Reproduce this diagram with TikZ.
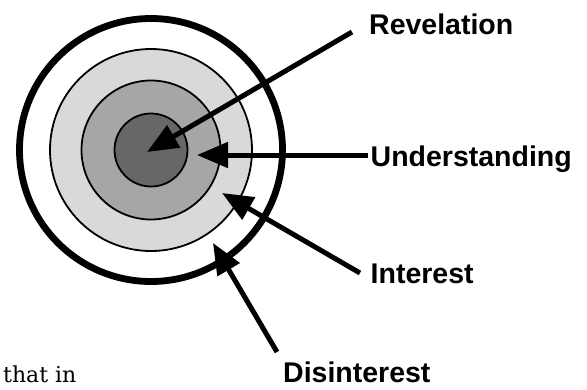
\documentclass[tikz,border=0pt]{standalone}
\usepackage{fontspec}
\setmainfont{Liberation Sans}
\newfontfamily\bodyserif{DejaVu Serif}
\usetikzlibrary{arrows.meta}
\definecolor{ringdark}{HTML}{676767}
\definecolor{ringmid}{HTML}{A6A6A6}
\definecolor{ringlight}{HTML}{D9D9D9}
\tikzset{
  ring/.style={draw=black, line width=1.8pt},
  pointer/.style={line width=5pt, -{Triangle[length=31pt,width=25pt]}},
  label/.style={font=\fontsize{28.5}{30}\selectfont\bfseries, anchor=base west, inner sep=0pt}
}
\begin{document}
\begin{tikzpicture}[x=1pt,y=-1pt]
\useasboundingbox (0,0) rectangle (587,389);
\fill[white] (0,0) rectangle (587,389);
% target
\draw[black, line width=6.8pt] (151,150) circle[radius=131.5];
\filldraw[ring, fill=ringlight] (151,150) circle[radius=101];
\filldraw[ring, fill=ringmid] (151,150) circle[radius=69.5];
\filldraw[ring, fill=ringdark] (151,150) circle[radius=36.5];
% labels
\node[label] (rev) at (369,34) {Revelation};
\node[label] (und) at (370.5,166) {Understanding};
\node[label] (int) at (370.5,283) {Interest};
\node[label] (dis) at (283,382) {Disinterest};
% arrow coordinates
\coordinate (revS) at (352,32);
\coordinate (revT) at (147,152);
\coordinate (undS) at (368,155);
\coordinate (undT) at (197,155);
\coordinate (intS) at (360,273);
\coordinate (intT) at (222,193);
\coordinate (disS) at (277,352);
\coordinate (disT) at (213,243);
\draw[pointer] (revS) -- (revT);
\draw[pointer] (undS) -- (undT);
\draw[pointer] (intS) -- (intT);
\draw[pointer] (disS) -- (disT);
% body text fragment
\node[font=\bodyserif\fontsize{22}{24}\selectfont, anchor=base west, inner sep=0pt] (frag) at (3,382) {that in};
\end{tikzpicture}
\end{document}
